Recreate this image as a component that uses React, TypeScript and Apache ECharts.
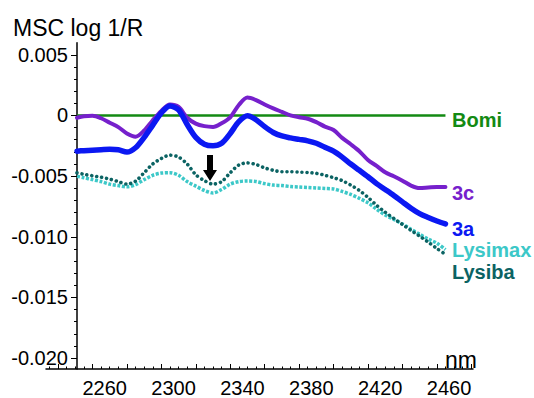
import React, { useEffect, useRef } from "react";
import * as echarts from "echarts";

// Wavelength grid (nm) shared by the spectra
const wavelengths = [
  2231, 2235, 2240, 2245, 2250, 2255, 2260, 2265, 2270, 2275, 2280, 2285, 2290, 2295, 2300,
  2305, 2310, 2315, 2320, 2325, 2330, 2335, 2340, 2345, 2350, 2355, 2360, 2365, 2370, 2375,
  2380, 2385, 2390, 2395, 2400, 2405, 2410, 2415, 2420, 2425, 2430, 2435, 2440, 2445,
];

// MSC-corrected log 1/R, expressed relative to Bomi
const spectrum3c = [
  -0.00019, -0.000065, -0.000024, -0.000227, -0.000592, -0.000956, -0.001483, -0.00175, -0.00124, -0.000389,
  0.000381, 0.000908, 0.000705, -0.000186, -0.000673, -0.000875, -0.00094, -0.000632, -0.000146, 0.000867,
  0.001475, 0.001272, 0.000908, 0.000583, 0.0003, 0.000016, -0.000146, -0.000267, -0.000551, -0.000916,
  -0.001199, -0.001848, -0.002374, -0.002942, -0.003671, -0.004157, -0.004684, -0.005008, -0.005373, -0.005778,
  -0.005981, -0.00594, -0.0059, -0.0059,
];
const spectrum3a = [
  -0.00294, -0.0029, -0.00286, -0.00282, -0.00278, -0.00282, -0.00302, -0.00266, -0.00181, -0.00079,
  0.00022, 0.00079, 0.00046, -0.00075, -0.00181, -0.00237, -0.0025, -0.00229, -0.00148, -0.00051,
  -0.00002, -0.00035, -0.00092, -0.0014, -0.00169, -0.00185, -0.00197, -0.00209, -0.00229, -0.00262,
  -0.00294, -0.00343, -0.004, -0.00452, -0.00505, -0.00562, -0.0061, -0.00659, -0.00712, -0.00764,
  -0.00809, -0.00841, -0.0087, -0.00894,
];
const spectrumLysiba = [
  -0.00472, -0.00485, -0.00497, -0.00509, -0.00525, -0.00545, -0.00566, -0.00541, -0.00472, -0.004,
  -0.00355, -0.00327, -0.00343, -0.004, -0.00489, -0.00537, -0.00566, -0.00545, -0.00472, -0.00408,
  -0.00391, -0.00404, -0.00432, -0.00452, -0.00464, -0.00464, -0.00467, -0.0047, -0.00477, -0.00493,
  -0.00513, -0.00537, -0.00574, -0.00618, -0.00675, -0.0074, -0.00797, -0.00849, -0.00898, -0.00947,
  -0.00995, -0.01044, -0.01096, -0.01145,
];
const spectrumLysimax = [
  -0.00501, -0.00513, -0.00529, -0.00545, -0.00566, -0.00578, -0.00588, -0.0057, -0.00529, -0.00493,
  -0.00475, -0.00472, -0.00493, -0.00545, -0.00582, -0.00618, -0.00639, -0.0061, -0.00566, -0.00545,
  -0.0054, -0.00545, -0.00562, -0.00574, -0.00578, -0.00586, -0.0059, -0.00594, -0.00598, -0.00602,
  -0.00606, -0.00626, -0.00651, -0.00683, -0.0072, -0.00772, -0.00821, -0.00857, -0.00894, -0.00938,
  -0.00979, -0.01019, -0.01052, -0.01105,
];
// Bomi is the reference, flat at zero across the range
const bomiWavelengths = [2231, 2445];
const bomiValues = [0, 0];

// Axis ticks and labels
const xMajorTicks = [2220, 2240, 2260, 2280, 2300, 2320, 2340, 2360, 2380, 2400, 2420, 2440, 2460];
const xLabelTicks = [2260, 2300, 2340, 2380, 2420, 2460];
const yLabelTicks = [0.005, 0, -0.005, -0.01, -0.015, -0.02];

const xMinorTicks: number[] = [];
for (let w = 2215; w <= 2460; w += 5) xMinorTicks.push(w);
const yMinorTicks: number[] = [];
for (let k = -20; k <= 5; k++) yMinorTicks.push(k / 1000);

const FONT = "'Liberation Sans', Arial, Helvetica, sans-serif";

const COLORS = {
  bomi: "#138a13",
  c3: "#7620cc",
  a3: "#0b18f2",
  lysimax: "#3cc8c8",
  lysiba: "#0b6363",
};

const pairs = (xs: number[], ys: number[]) => xs.map((x, i) => [x, ys[i]]);

export default function App() {
  const ref = useRef<HTMLDivElement>(null);

  useEffect(() => {
    if (!ref.current) return;
    const chart = echarts.init(ref.current, undefined, { renderer: "svg" });

    const xBase = { type: "value", min: 2213, max: 2461, position: "bottom", splitLine: { show: false } };
    const yBase = { type: "value", min: -0.0209, max: 0.006, position: "left", offset: -31, splitLine: { show: false } };

    const lineSeries = (name: string, data: number[][], color: string, width: number, type: any, cap: any, z: number) => ({
      name,
      type: "line",
      data,
      showSymbol: false,
      smooth: 0.3,
      z,
      lineStyle: { color, width, type, cap, join: "round" },
      emphasis: { disabled: true },
    });

    // Series name placed beside the end of its curve
    const labelText = (text: string, y: number, color: string) => ({
      type: "text",
      left: 452,
      top: y - 9,
      style: { text, fill: color, font: `bold 20px ${FONT}`, lineHeight: 18, verticalAlign: "top" },
    });

    chart.setOption({
      animation: false,
      backgroundColor: "#ffffff",
      grid: { left: 46, right: 61, top: 42.7, bottom: 24, containLabel: false },
      xAxis: [
        {
          ...xBase,
          axisLine: { show: true, onZero: false, lineStyle: { color: "#000", width: 1.5 } },
          axisTick: { show: true, inside: true, length: 5, customValues: xMajorTicks, lineStyle: { color: "#000", width: 1 } },
          axisLabel: {
            show: true,
            customValues: xLabelTicks,
            formatter: (v: number) => String(v),
            align: "right",
            verticalAlign: "top",
            margin: 9,
            fontSize: 20,
            color: "#000",
            fontFamily: FONT,
          },
        },
        {
          ...xBase,
          axisLine: { show: false, onZero: false },
          axisTick: { show: true, inside: true, length: 2.5, customValues: xMinorTicks, lineStyle: { color: "#000", width: 1 } },
          axisLabel: { show: false },
        },
      ],
      yAxis: [
        {
          ...yBase,
          axisLine: { show: true, onZero: false, lineStyle: { color: "#000", width: 1.5 } },
          axisTick: { show: true, inside: false, length: 6, customValues: yLabelTicks, lineStyle: { color: "#000", width: 1 } },
          axisLabel: {
            show: true,
            customValues: yLabelTicks,
            formatter: (v: number) => (Math.abs(v) < 1e-12 ? "0" : v.toFixed(3)),
            margin: 9,
            padding: [6, 0, 0, 0],
            fontSize: 20,
            color: "#000",
            fontFamily: FONT,
          },
        },
        {
          ...yBase,
          axisLine: { show: false, onZero: false },
          axisTick: { show: true, inside: false, length: 3, customValues: yMinorTicks, lineStyle: { color: "#000", width: 1 } },
          axisLabel: { show: false },
        },
      ],
      series: [
        lineSeries("Bomi", pairs(bomiWavelengths, bomiValues), COLORS.bomi, 2.5, "solid", "butt", 1),
        lineSeries("Lysimax", pairs(wavelengths, spectrumLysimax), COLORS.lysimax, 3.5, [3, 1.6], "butt", 2),
        lineSeries("Lysiba", pairs(wavelengths, spectrumLysiba), COLORS.lysiba, 3.6, [0.01, 5], "round", 3),
        lineSeries("3c", pairs(wavelengths, spectrum3c), COLORS.c3, 4, "solid", "round", 4),
        lineSeries("3a", pairs(wavelengths, spectrum3a), COLORS.a3, 5.5, "solid", "round", 5),
      ],
      graphic: [
        {
          type: "text",
          left: 13,
          top: 16,
          style: { text: "MSC log 1/R", fill: "#000", font: `23px ${FONT}`, verticalAlign: "top" },
        },
        {
          type: "text",
          left: 445,
          top: 348,
          style: { text: "nm", fill: "#000", font: `23px ${FONT}`, verticalAlign: "top" },
        },
        labelText("Bomi", 119, COLORS.bomi),
        labelText("3c", 191.5, COLORS.c3),
        labelText("3a", 227.5, COLORS.a3),
        labelText("Lysimax", 249, COLORS.lysimax),
        labelText("Lysiba", 270.5, COLORS.lysiba),
        {
          type: "polygon",
          shape: {
            points: [
              [207, 155], [213, 155], [213, 170], [217, 170], [210, 181], [203, 170], [207, 170],
            ],
          },
          style: { fill: "#000" },
          z: 10,
        },
      ],
    });

    return () => chart.dispose();
  }, []);

  return (
    <div
      ref={ref}
      style={{ position: "fixed", left: 0, top: 0, width: 534, height: 398, background: "#fff" }}
    />
  );
}
